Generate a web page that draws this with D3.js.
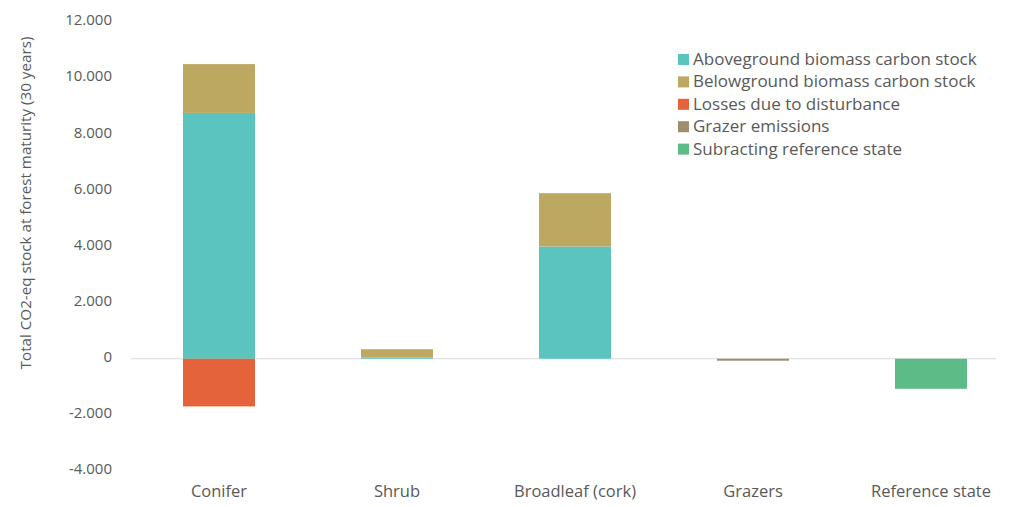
<!DOCTYPE html>
<html>
<head>
<meta charset="utf-8">
<script src="https://cdn.jsdelivr.net/npm/d3@7"></script>
<style>
  html, body { margin: 0; padding: 0; background: #fff; }
  svg { display: block; font-family: "Open Sans", Lato, sans-serif; }
</style>
</head>
<body>
<svg id="chart" width="1009" height="507"></svg>
<script>
// Land-use categories along the x axis
const categories = ["Conifer", "Shrub", "Broadleaf (cork)", "Grazers", "Reference state"];

// Stacked components (CO2-eq stock at 30 years)
const seriesNames = [
  "Aboveground biomass carbon stock",
  "Belowground biomass carbon stock",
  "Losses due to disturbance",
  "Grazer emissions",
  "Subracting reference state"
];
const aboveground = [8760, 40, 4000, 0, 0];
const belowground = [1740, 300, 1900, 0, 0];
const losses      = [-1700, 0, 0, 0, 0];
const grazer      = [0, 0, 0, -70, 0];
const reference   = [0, 0, 0, 0, -1070];

const seriesColors = ["#5BC4BE", "#BDA862", "#E4633A", "#9E8E6C", "#5DBB87"];

const yTicks = [-4000, -2000, 0, 2000, 4000, 6000, 8000, 10000, 12000];
const yTitle = "Total CO2-eq stock at forest maturity (30 years)";

const svg = d3.select("#chart");
const textColor = "#595959";
const fontFamily = "'Open Sans', Lato, sans-serif";

const x = d3.scaleBand()
  .domain(categories)
  .range([130.5, 1019.5])
  .paddingInner(0.5955)
  .paddingOuter(0.295);

const y = d3.scaleLinear()
  .domain([-4000, 12000])
  .range([471, 22]);

// Build stacked segments: positives stack upward, negatives downward
const allSeries = [aboveground, belowground, losses, grazer, reference];
const segments = [];
categories.forEach((cat, i) => {
  let pos = 0, neg = 0;
  allSeries.forEach((vals, s) => {
    const v = vals[i];
    if (v === 0) return;
    let y0, y1;
    if (v > 0) { y0 = pos; y1 = pos + v; pos = y1; }
    else { y0 = neg; y1 = neg + v; neg = y1; }
    segments.push({ cat, s, y0, y1 });
  });
});

// Zero baseline
svg.append("line")
  .attr("x1", 131).attr("x2", 996)
  .attr("y1", y(0)).attr("y2", y(0))
  .attr("stroke", "#d9d9d9").attr("stroke-width", 1.2);

// Bars
svg.append("g").selectAll("rect")
  .data(segments)
  .join("rect")
  .attr("x", d => x(d.cat))
  .attr("width", x.bandwidth())
  .attr("y", d => y(Math.max(d.y0, d.y1)))
  .attr("height", d => Math.abs(y(d.y0) - y(d.y1)))
  .attr("fill", d => seriesColors[d.s]);

// Y axis labels: thousands separated with a dot
const fmtTick = v => {
  if (v === 0) return "0";
  const s = (Math.abs(v) / 1000).toFixed(3);
  return (v < 0 ? "-" : "") + s;
};
const yAxis = d3.axisLeft(y).tickValues(yTicks).tickFormat(fmtTick).tickSize(0).tickPadding(0);
const yg = svg.append("g").attr("transform", "translate(112,-2)").call(yAxis);
yg.select(".domain").remove();
yg.selectAll("text")
  .attr("fill", textColor)
  .style("font-size", "15px")
  .style("font-family", fontFamily);

// X axis labels
const xAxis = d3.axisBottom(x).tickSize(0).tickPadding(0);
const xg = svg.append("g").attr("transform", "translate(0,485)").call(xAxis);
xg.select(".domain").remove();
xg.selectAll("text")
  .attr("fill", textColor)
  .style("font-size", "16.5px")
  .style("font-family", fontFamily);

// Y axis title
svg.append("text")
  .attr("transform", "translate(31,203) rotate(-90)")
  .attr("text-anchor", "middle")
  .attr("fill", textColor)
  .style("font-size", "15.2px")
  .text(yTitle);

// Legend
const legend = svg.append("g").attr("transform", "translate(678,59)");
const items = legend.selectAll("g")
  .data(seriesNames)
  .join("g")
  .attr("transform", (d, i) => `translate(0,${i * 22.4})`);
items.append("rect")
  .attr("x", 0).attr("y", -5)
  .attr("width", 11).attr("height", 11)
  .attr("fill", (d, i) => seriesColors[i]);
items.append("text")
  .attr("x", 15).attr("y", 0)
  .attr("dy", "0.35em")
  .attr("fill", textColor)
  .style("font-size", "17px")
  .text(d => d);
</script>
</body>
</html>
